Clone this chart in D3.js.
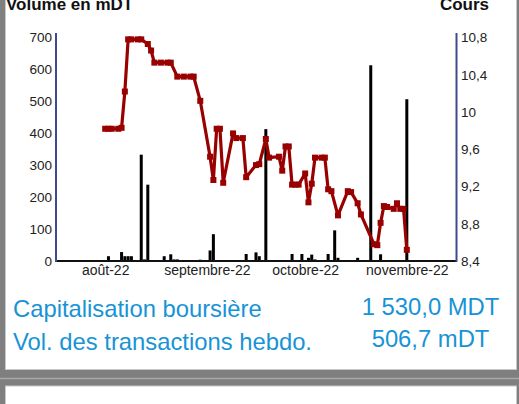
<!DOCTYPE html>
<head>
  <meta charset="utf-8" />
  <script src="https://d3js.org/d3.v7.min.js"></script>
  <style>
    html, body {
      margin: 0;
      padding: 0;
      background: #7f7f7f;
    }
    svg {
      display: block;
      font-family: "Liberation Sans", Arial, sans-serif;
    }
    .tick text {
      fill: #222;
    }
  </style>
</head>

<body>
  <svg width="519" height="404"></svg>

  <script>
    // cours (DT) par séance
    var priceDates = [
      "2022-08-01", "2022-08-02", "2022-08-03", "2022-08-05", "2022-08-06",
      "2022-08-07", "2022-08-08", "2022-08-09", "2022-08-11", "2022-08-12",
      "2022-08-14", "2022-08-15", "2022-08-16", "2022-08-18", "2022-08-20",
      "2022-08-21", "2022-08-23", "2022-08-25", "2022-08-27", "2022-08-28",
      "2022-08-30", "2022-09-02", "2022-09-03", "2022-09-04", "2022-09-05",
      "2022-09-06", "2022-09-09", "2022-09-10", "2022-09-12", "2022-09-13",
      "2022-09-16", "2022-09-17", "2022-09-19", "2022-09-20", "2022-09-23",
      "2022-09-24", "2022-09-25", "2022-09-26", "2022-09-27", "2022-09-28",
      "2022-09-29", "2022-10-01", "2022-10-02", "2022-10-03", "2022-10-04",
      "2022-10-06", "2022-10-07", "2022-10-08", "2022-10-09", "2022-10-11",
      "2022-10-14", "2022-10-15", "2022-10-17", "2022-10-18", "2022-10-22",
      "2022-10-23", "2022-10-24", "2022-10-25", "2022-10-26", "2022-10-28",
      "2022-10-29", "2022-10-30", "2022-10-31", "2022-11-01"
    ];
    var priceValues = [
      9.82, 9.82, 9.82, 9.82, 9.83,
      10.22, 10.78, 10.78, 10.78, 10.78,
      10.73, 10.66, 10.53, 10.53, 10.53,
      10.53, 10.38, 10.38, 10.38, 10.38,
      10.12, 9.52, 9.27, 9.82, 9.82,
      9.24, 9.77, 9.72, 9.72, 9.3,
      9.43, 9.44, 9.71, 9.51, 9.52,
      9.37, 9.63, 9.63, 9.22, 9.22,
      9.22, 9.34, 9.03, 9.23, 9.51,
      9.51, 9.51, 9.17, 9.15, 8.89,
      9.15, 9.14, 9.02, 8.9, 8.58,
      8.57, 8.81, 8.99, 8.98, 8.96,
      9.02, 8.96, 8.96, 8.52
    ];

    // volume (mDT)
    var volDates = [
      "2022-08-02", "2022-08-06", "2022-08-07", "2022-08-08", "2022-08-09",
      "2022-08-12", "2022-08-13", "2022-08-14", "2022-08-19", "2022-08-21",
      "2022-08-22", "2022-08-23", "2022-08-30", "2022-09-02", "2022-09-03",
      "2022-09-05", "2022-09-07", "2022-09-09", "2022-09-10", "2022-09-13",
      "2022-09-16", "2022-09-17", "2022-09-19", "2022-09-20", "2022-09-24",
      "2022-09-27", "2022-09-30", "2022-10-02", "2022-10-03", "2022-10-04",
      "2022-10-08", "2022-10-10", "2022-10-11", "2022-10-15", "2022-10-16",
      "2022-10-17", "2022-10-21", "2022-10-24", "2022-11-01"
    ];
    var volValues = [
      15, 28, 15, 15, 15,
      333, 5, 239, 15, 21,
      5, 5, 4, 33, 84,
      3, 3, 3, 3, 22,
      27, 15, 413, 3, 3,
      22, 22, 10, 20, 5,
      22, 96, 10, 3, 3,
      10, 613, 21, 506.7
    ];

    var volTicks = [0, 100, 200, 300, 400, 500, 600, 700];
    var priceTicks = [8.4, 8.8, 9.2, 9.6, 10, 10.4, 10.8];
    var monthDates = ["2022-08-01", "2022-09-01", "2022-10-01", "2022-11-01"];
    var monthLabels = ["août-22", "septembre-22", "octobre-22", "novembre-22"];

    var infoLabels = ["Capitalisation boursière", "Vol. des transactions hebdo."];
    var infoValues = ["1 530,0 MDT", "506,7 mDT"];

    var parse = d3.timeParse("%Y-%m-%d");
    var svg = d3.select("svg");

    // fond des panneaux
    svg.append("rect")
      .attr("x", 5.5).attr("y", -5)
      .attr("width", 511).attr("height", 374.5)
      .attr("fill", "#fff").attr("stroke", "#c8c8c8");
    svg.append("line")
      .attr("x1", 0).attr("x2", 519)
      .attr("y1", 378.5).attr("y2", 378.5)
      .attr("stroke", "#a6a6a6").attr("stroke-width", 1.5);
    svg.append("rect")
      .attr("x", 5.5).attr("y", 386)
      .attr("width", 511).attr("height", 40)
      .attr("fill", "#fff").attr("stroke", "#c8c8c8");

    var x = d3.scaleTime()
      .domain([parse("2022-07-17"), parse("2022-11-16")])
      .range([56, 456]);
    var yVol = d3.scaleLinear().domain([0, 700]).range([261, 37.5]);
    var yPrice = d3.scaleLinear().domain([8.4, 10.8]).range([261, 37.5]);

    // titres (coupés en haut comme sur l'original)
    svg.append("text")
      .attr("x", 6).attr("y", 9.5)
      .attr("font-size", 17).attr("font-weight", "bold")
      .attr("fill", "#111")
      .text("Volume en mDT");
    svg.append("text")
      .attr("x", 489).attr("y", 9.5)
      .attr("text-anchor", "end")
      .attr("font-size", 17).attr("font-weight", "bold")
      .attr("fill", "#111")
      .text("Cours");

    // barres de volume
    var bars = volDates.map(function (d, i) {
      return { date: parse(d), value: volValues[i] };
    });
    svg.append("g")
      .selectAll("rect")
      .data(bars)
      .enter()
      .append("rect")
      .attr("x", function (d) { return x(d.date) - 1.5; })
      .attr("width", 3)
      .attr("y", function (d) { return yVol(d.value); })
      .attr("height", function (d) { return yVol(0) - yVol(d.value); })
      .attr("fill", "#000");

    // axes
    var leftAxis = svg.append("g")
      .attr("transform", "translate(52,0)")
      .call(d3.axisLeft(yVol).tickValues(volTicks).tickSize(0).tickPadding(0));
    leftAxis.select(".domain").remove();
    leftAxis.selectAll("text").attr("font-size", 13.5).attr("font-family", "Liberation Sans, Arial");

    var fmtPrice = function (d) {
      return d3.format(".1f")(d).replace(".0", "").replace(".", ",");
    };
    var rightAxis = svg.append("g")
      .attr("transform", "translate(461,0)")
      .call(d3.axisRight(yPrice).tickValues(priceTicks).tickFormat(fmtPrice).tickSize(0).tickPadding(0));
    rightAxis.select(".domain").remove();
    rightAxis.selectAll("text").attr("font-size", 13.5).attr("font-family", "Liberation Sans, Arial");

    var bottomAxis = svg.append("g")
      .attr("transform", "translate(0,262)")
      .call(d3.axisBottom(x)
        .tickValues(monthDates.map(parse))
        .tickFormat(function (d, i) { return monthLabels[i]; })
        .tickSize(0).tickPadding(3));
    bottomAxis.select(".domain").remove();
    bottomAxis.selectAll("text").attr("font-size", 14).attr("font-family", "Liberation Sans, Arial");

    svg.append("line")
      .attr("x1", 56).attr("x2", 456)
      .attr("y1", 261).attr("y2", 261)
      .attr("stroke", "#111").attr("stroke-width", 2);
    svg.append("line")
      .attr("x1", 56).attr("x2", 56)
      .attr("y1", 33).attr("y2", 262)
      .attr("stroke", "#3f4a8c").attr("stroke-width", 2);
    svg.append("line")
      .attr("x1", 456.5).attr("x2", 456.5)
      .attr("y1", 33).attr("y2", 262)
      .attr("stroke", "#3f4a8c").attr("stroke-width", 2);

    // courbe du cours
    var prices = priceDates.map(function (d, i) {
      return { date: parse(d), value: priceValues[i] };
    });
    var line = d3.line()
      .x(function (d) { return x(d.date); })
      .y(function (d) { return yPrice(d.value); });
    svg.append("path")
      .datum(prices)
      .attr("fill", "none")
      .attr("stroke", "#990000")
      .attr("stroke-width", 3.2)
      .attr("stroke-linejoin", "round")
      .attr("d", line);
    svg.append("g")
      .selectAll("rect")
      .data(prices)
      .enter()
      .append("rect")
      .attr("x", function (d) { return x(d.date) - 3; })
      .attr("y", function (d) { return yPrice(d.value) - 3; })
      .attr("width", 6)
      .attr("height", 6)
      .attr("fill", "#990000");

    // chiffres clés
    var info = svg.append("g")
      .attr("font-size", 23.8)
      .attr("fill", "#1793d6");
    info.selectAll("text.lab")
      .data(infoLabels)
      .enter()
      .append("text")
      .attr("class", "lab")
      .attr("x", 13)
      .attr("y", function (d, i) { return 317 + i * 33; })
      .text(function (d) { return d; });
    info.selectAll("text.val")
      .data(infoValues)
      .enter()
      .append("text")
      .attr("class", "val")
      .attr("x", 430.5)
      .attr("y", function (d, i) { return 315 + i * 32; })
      .attr("text-anchor", "middle")
      .text(function (d) { return d; });
  </script>
</body>
